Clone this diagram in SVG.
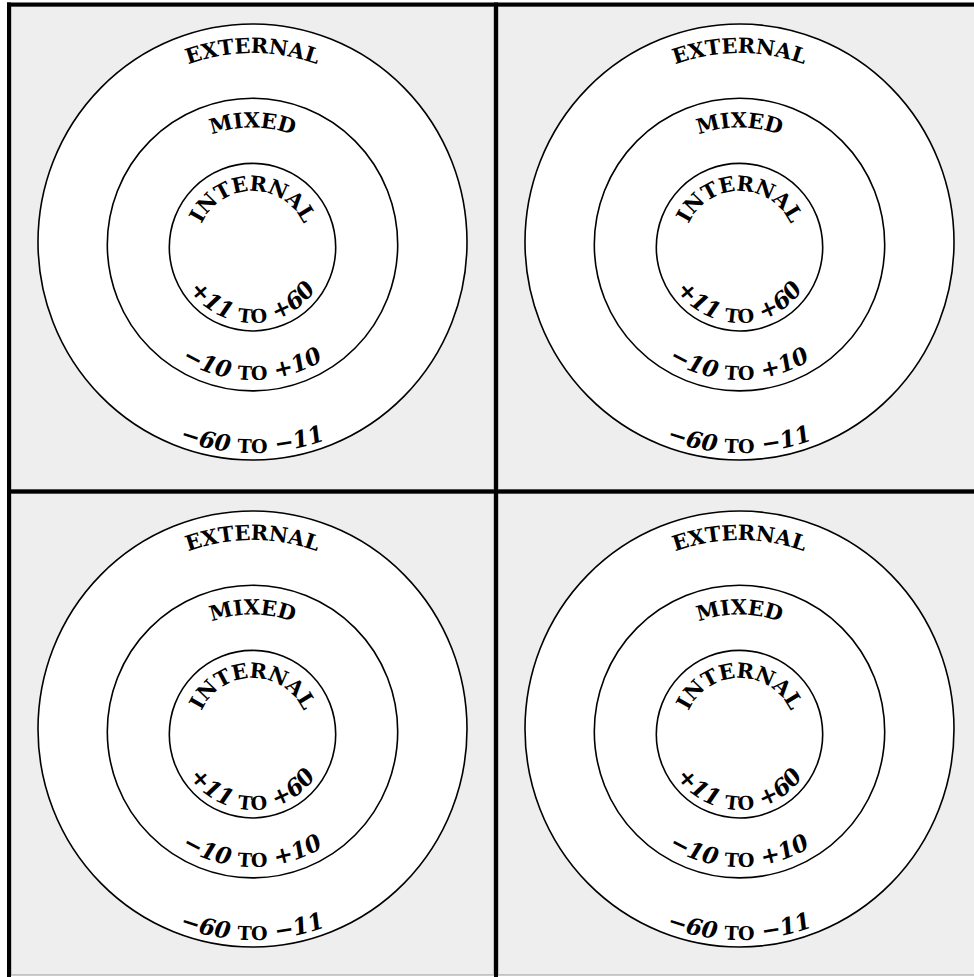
<svg xmlns="http://www.w3.org/2000/svg" xmlns:xlink="http://www.w3.org/1999/xlink" width="974" height="977" viewBox="0 0 974 977">
<style>
.bg{fill:#eeeeee;stroke:#999999;stroke-width:1}
.bar{stroke:#000;stroke-width:4;fill:none}
.ring{fill:#ffffff;stroke:#000;stroke-width:1.6}
.lbl{font-family:"DejaVu Serif","Liberation Serif",serif;font-weight:bold;font-size:21px;fill:#000}
.num{font-style:italic;font-size:23px}
.to{font-style:normal;font-size:19px}
</style>
<defs>
<path id="pExtT" d="M63.5 242 A189 189 0 0 1 441.5 242"/>
<path id="pMixT" d="M135.5 244.5 A117 117 0 0 1 369.5 244.5"/>
<path id="pIntT" d="M196.5 247 A56 56 0 0 1 308.5 247"/>
<path id="pExtB" d="M41.5 242 A211 211 0 0 0 463.5 242"/>
<path id="pMixB" d="M117 244.5 A135.5 135.5 0 0 0 388 244.5"/>
<path id="pIntB" d="M176.5 247 A76 76 0 0 0 328.5 247"/>
</defs>
<g id="frame">
<rect class="bg" x="11" y="6.5" width="483" height="483"/>
<rect class="bg" x="498" y="6.5" width="483" height="483"/>
<rect class="bg" x="11" y="493.5" width="483" height="481.5"/>
<rect class="bg" x="498" y="493.5" width="483" height="481.5"/>
<line class="bar" x1="7" y1="4.5" x2="974" y2="4.5"/>
<line class="bar" x1="9" y1="2.5" x2="9" y2="977"/>
<line class="bar" x1="496" y1="2.5" x2="496" y2="977"/>
<line class="bar" x1="7" y1="491.5" x2="974" y2="491.5"/>
</g>
<g id="q-tl">
<ellipse class="ring" cx="252.5" cy="242" rx="214.5" ry="218"/>
<ellipse class="ring" cx="252.5" cy="244.6" rx="145.2" ry="146.3"/>
<ellipse class="ring" cx="252.5" cy="247.2" rx="83.2" ry="83.8"/>
<text class="lbl"><textPath xlink:href="#pExtT" startOffset="50%" text-anchor="middle">EXTERNAL</textPath></text>
<text class="lbl"><textPath xlink:href="#pMixT" startOffset="50%" text-anchor="middle">MIXED</textPath></text>
<text class="lbl"><textPath xlink:href="#pIntT" startOffset="50%" text-anchor="middle">INTERNAL</textPath></text>
<text class="lbl"><textPath xlink:href="#pExtB" startOffset="50%" text-anchor="middle"><tspan class="num">−60 </tspan><tspan class="to">TO</tspan><tspan class="num"> −11</tspan></textPath></text>
<text class="lbl"><textPath xlink:href="#pMixB" startOffset="50%" text-anchor="middle"><tspan class="num">−10 </tspan><tspan class="to">TO</tspan><tspan class="num"> +10</tspan></textPath></text>
<text class="lbl"><textPath xlink:href="#pIntB" startOffset="50%" text-anchor="middle"><tspan class="num">+11 </tspan><tspan class="to">TO</tspan><tspan class="num"> +60</tspan></textPath></text>
</g>
<g id="q-tr" transform="translate(487,0)">
<ellipse class="ring" cx="252.5" cy="242" rx="214.5" ry="218"/>
<ellipse class="ring" cx="252.5" cy="244.6" rx="145.2" ry="146.3"/>
<ellipse class="ring" cx="252.5" cy="247.2" rx="83.2" ry="83.8"/>
<text class="lbl"><textPath xlink:href="#pExtT" startOffset="50%" text-anchor="middle">EXTERNAL</textPath></text>
<text class="lbl"><textPath xlink:href="#pMixT" startOffset="50%" text-anchor="middle">MIXED</textPath></text>
<text class="lbl"><textPath xlink:href="#pIntT" startOffset="50%" text-anchor="middle">INTERNAL</textPath></text>
<text class="lbl"><textPath xlink:href="#pExtB" startOffset="50%" text-anchor="middle"><tspan class="num">−60 </tspan><tspan class="to">TO</tspan><tspan class="num"> −11</tspan></textPath></text>
<text class="lbl"><textPath xlink:href="#pMixB" startOffset="50%" text-anchor="middle"><tspan class="num">−10 </tspan><tspan class="to">TO</tspan><tspan class="num"> +10</tspan></textPath></text>
<text class="lbl"><textPath xlink:href="#pIntB" startOffset="50%" text-anchor="middle"><tspan class="num">+11 </tspan><tspan class="to">TO</tspan><tspan class="num"> +60</tspan></textPath></text>
</g>
<g id="q-bl" transform="translate(0,487)">
<ellipse class="ring" cx="252.5" cy="242" rx="214.5" ry="218"/>
<ellipse class="ring" cx="252.5" cy="244.6" rx="145.2" ry="146.3"/>
<ellipse class="ring" cx="252.5" cy="247.2" rx="83.2" ry="83.8"/>
<text class="lbl"><textPath xlink:href="#pExtT" startOffset="50%" text-anchor="middle">EXTERNAL</textPath></text>
<text class="lbl"><textPath xlink:href="#pMixT" startOffset="50%" text-anchor="middle">MIXED</textPath></text>
<text class="lbl"><textPath xlink:href="#pIntT" startOffset="50%" text-anchor="middle">INTERNAL</textPath></text>
<text class="lbl"><textPath xlink:href="#pExtB" startOffset="50%" text-anchor="middle"><tspan class="num">−60 </tspan><tspan class="to">TO</tspan><tspan class="num"> −11</tspan></textPath></text>
<text class="lbl"><textPath xlink:href="#pMixB" startOffset="50%" text-anchor="middle"><tspan class="num">−10 </tspan><tspan class="to">TO</tspan><tspan class="num"> +10</tspan></textPath></text>
<text class="lbl"><textPath xlink:href="#pIntB" startOffset="50%" text-anchor="middle"><tspan class="num">+11 </tspan><tspan class="to">TO</tspan><tspan class="num"> +60</tspan></textPath></text>
</g>
<g id="q-br" transform="translate(487,487)">
<ellipse class="ring" cx="252.5" cy="242" rx="214.5" ry="218"/>
<ellipse class="ring" cx="252.5" cy="244.6" rx="145.2" ry="146.3"/>
<ellipse class="ring" cx="252.5" cy="247.2" rx="83.2" ry="83.8"/>
<text class="lbl"><textPath xlink:href="#pExtT" startOffset="50%" text-anchor="middle">EXTERNAL</textPath></text>
<text class="lbl"><textPath xlink:href="#pMixT" startOffset="50%" text-anchor="middle">MIXED</textPath></text>
<text class="lbl"><textPath xlink:href="#pIntT" startOffset="50%" text-anchor="middle">INTERNAL</textPath></text>
<text class="lbl"><textPath xlink:href="#pExtB" startOffset="50%" text-anchor="middle"><tspan class="num">−60 </tspan><tspan class="to">TO</tspan><tspan class="num"> −11</tspan></textPath></text>
<text class="lbl"><textPath xlink:href="#pMixB" startOffset="50%" text-anchor="middle"><tspan class="num">−10 </tspan><tspan class="to">TO</tspan><tspan class="num"> +10</tspan></textPath></text>
<text class="lbl"><textPath xlink:href="#pIntB" startOffset="50%" text-anchor="middle"><tspan class="num">+11 </tspan><tspan class="to">TO</tspan><tspan class="num"> +60</tspan></textPath></text>
</g>
</svg>
